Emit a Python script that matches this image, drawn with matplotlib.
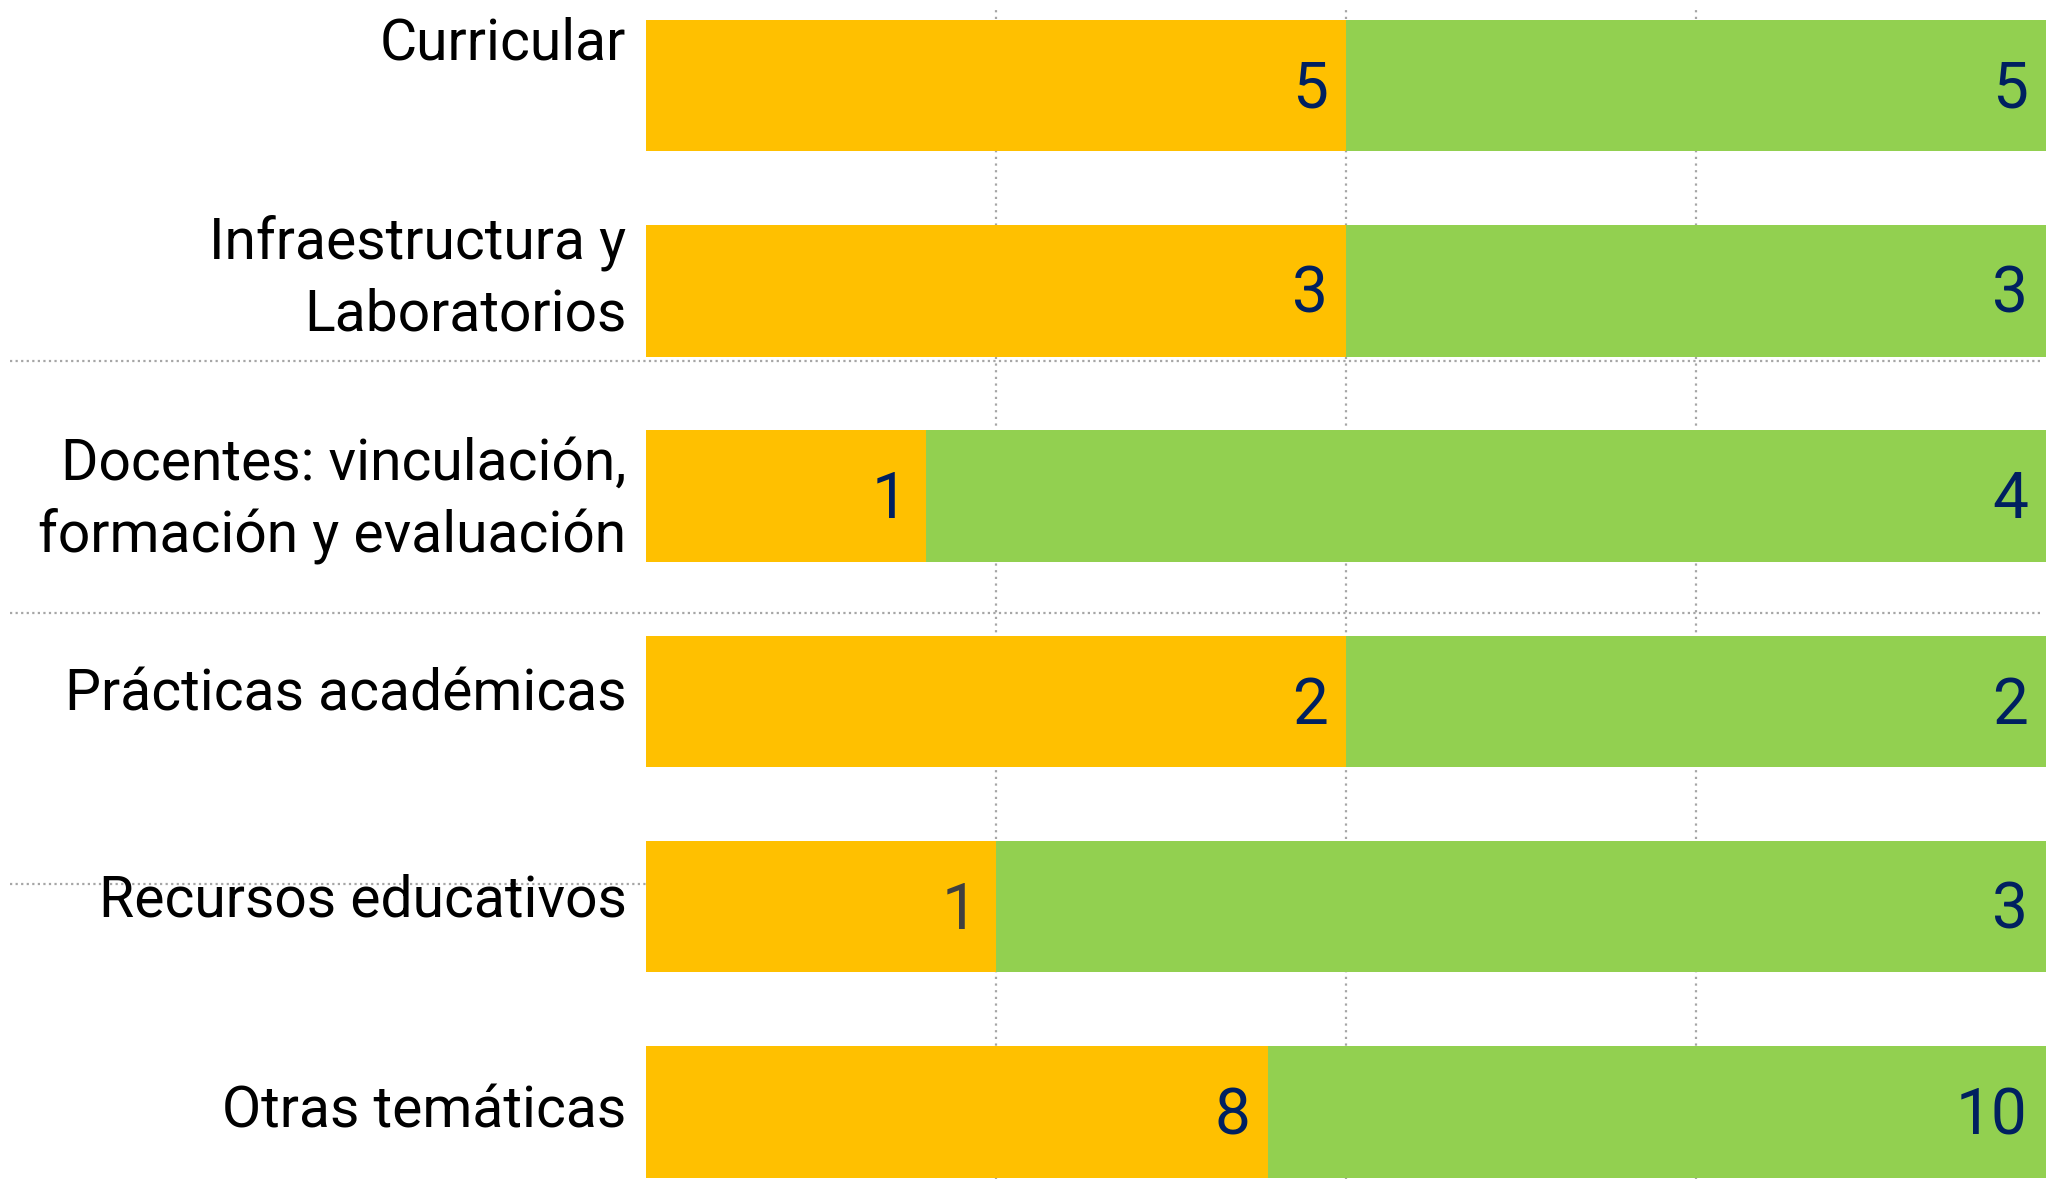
import matplotlib.pyplot as plt
import numpy as np

categorias = ["Curricular", "Infraestructura y\nLaboratorios",
              "Docentes: vinculación,\nformación y evaluación",
              "Prácticas académicas", "Recursos educativos", "Otras temáticas"]
serie_a = [5, 3, 1, 2, 1, 8]
serie_b = [5, 3, 4, 2, 3, 10]
color_num_a = ["#002060", "#002060", "#002060", "#002060", "#404040", "#002060"]

plt.rcParams['font.family'] = ['Roboto', 'DejaVu Sans']

naranja = "#FFC000"
verde = "#92D050"
gris = "#A6A6A6"

a = np.array(serie_a, dtype=float)
b = np.array(serie_b, dtype=float)
total = a + b
pa = a / total * 100
pb = b / total * 100
y = np.arange(len(categorias))

fig = plt.figure(figsize=(20.66, 11.79), dpi=100)
ax = fig.add_axes([646 / 2066, 0, 1400 / 2066, 1169 / 1179])

alto = 0.64
ax.barh(y, pa, height=alto, color=naranja, zorder=2)
ax.barh(y, pb, left=pa, height=alto, color=verde, zorder=2)

# rejilla vertical punteada
for gx in [25, 50, 75]:
    ax.axvline(gx, color=gris, lw=1.6, ls=(0, (1, 2)), zorder=1)

# separadores horizontales que cruzan la zona de etiquetas
for sy in [1.34, 2.57, 3.89]:
    ax.axhline(sy, xmin=-0.454, xmax=0.996, color=gris, lw=1.6,
               ls=(0, (1, 1.5)), zorder=1, clip_on=False)

# desplazamiento vertical de cada etiqueta respecto a su barra
desp = [-0.2, -0.06, 0.02, -0.03, -0.03, 0.0]

pad = 1.3
for i in range(len(categorias)):
    ax.text(pa[i] - pad, y[i] + 0.02, str(serie_a[i]), ha='right', va='center',
            fontsize=46, color=color_num_a[i], zorder=3)
    ax.text(100 - pad, y[i] + 0.02, str(serie_b[i]), ha='right', va='center',
            fontsize=46, color="#002060", zorder=3)
    ax.text(-1.4, y[i] + desp[i], categorias[i], ha='right', va='center',
            fontsize=41, color="black", linespacing=1.38, clip_on=False)

ax.set_xlim(0, 100)
ax.set_ylim(5.326, -0.368)
ax.axis('off')

plt.savefig("out.png", dpi=100)
